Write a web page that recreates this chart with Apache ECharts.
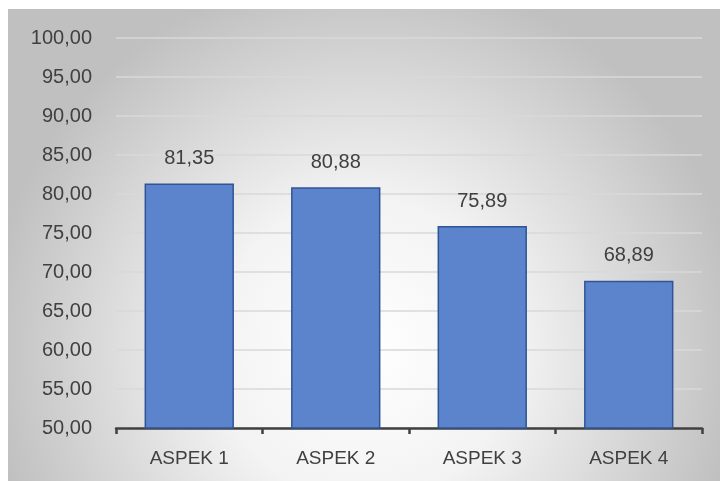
<!DOCTYPE html>
<html><head><meta charset="utf-8">
<script src="https://cdn.jsdelivr.net/npm/echarts@6/dist/echarts.min.js"></script>
<style>html,body{margin:0;padding:0;background:#fff;}#c{position:absolute;left:8px;top:9px;width:712px;height:472px;}</style>
</head><body><div id="c"></div>
<script>
const categories = ["ASPEK 1", "ASPEK 2", "ASPEK 3", "ASPEK 4"];
const values = [81.35, 80.88, 75.89, 68.89];
const yMin = 50, yMax = 100, yStep = 5;
const fmt = v => Number(v).toFixed(2).replace('.', ',');
const chart = echarts.init(document.getElementById('c'));
chart.setOption({
  backgroundColor: {type:'radial', x:0.5, y:0.72, r:0.8, colorStops:[{offset:0,color:'#ffffff'},{offset:0.4,color:'#f3f3f3'},{offset:1,color:'#c0c0c0'}]},
  animation:false,
  grid:{left:108, right:18, top:29, bottom:53},
  xAxis:{type:'category', data:categories,
    axisLine:{lineStyle:{color:'#404040', width:2.5}},
    axisTick:{show:true, length:6, lineStyle:{color:'#404040', width:2.5}},
    axisLabel:{color:'#404040', fontFamily:'Liberation Sans', fontSize:19, margin:21}},
  yAxis:{type:'value', min:yMin, max:yMax, interval:yStep,
    axisLine:{show:false}, axisTick:{show:false},
    splitLine:{lineStyle:{color:'#d9d9d9', width:1.5}},
    axisLabel:{color:'#404040', fontFamily:'Liberation Sans', fontSize:20, margin:24, formatter:fmt}},
  series:[{type:'bar', data:values, barWidth:'61%',
    itemStyle:{color:'#5b84cc', borderColor:'#2f5597', borderWidth:1.5},
    label:{show:true, position:'top', distance:15, color:'#404040', fontFamily:'Liberation Sans', fontSize:20, formatter:p=>fmt(p.value)}}]
});
</script></body></html>
